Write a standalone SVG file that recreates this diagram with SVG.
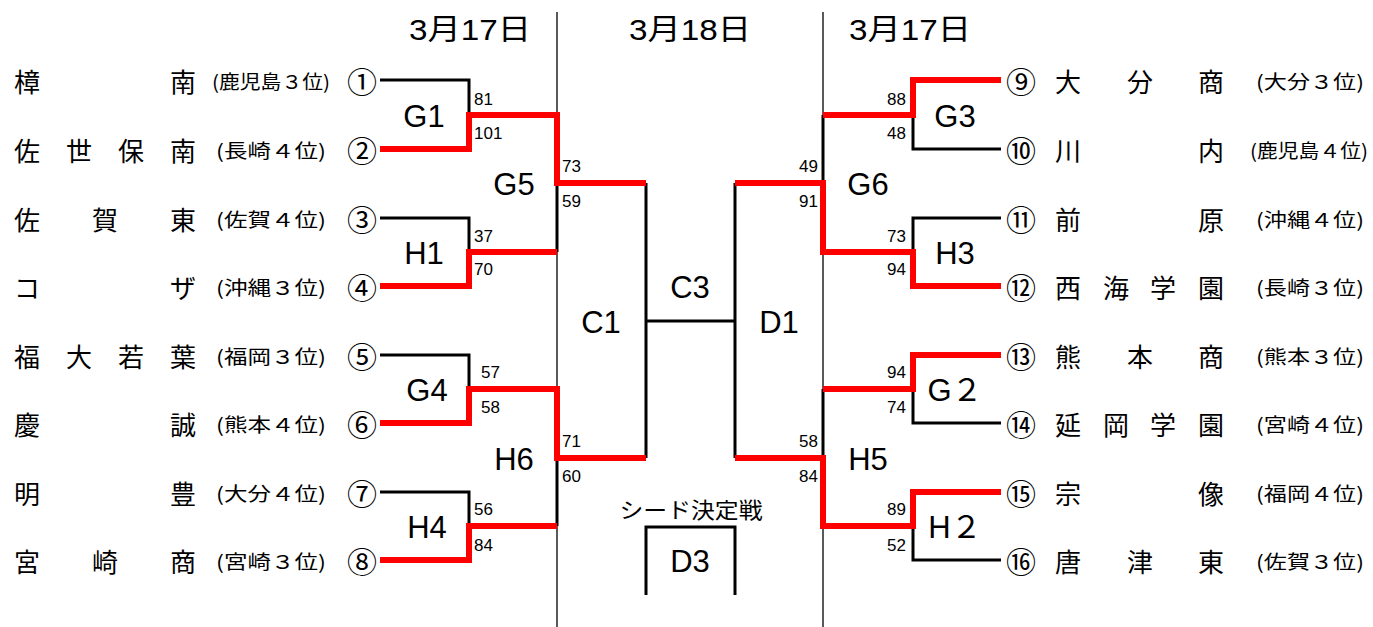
<svg xmlns="http://www.w3.org/2000/svg" width="1373" height="627" viewBox="0 0 1373 627">
<style>
text{font-family:"Noto Sans CJK JP","Liberation Sans",sans-serif;fill:#000;dominant-baseline:central}
.nm{font-size:26px;text-anchor:middle}
.pf{font-size:19px}
.cn{font-size:30px;text-anchor:middle}
.lb{font-family:"Liberation Sans","Noto Sans CJK JP",sans-serif;font-size:31px;text-anchor:middle}
.dt{font-family:"Liberation Sans","Noto Sans CJK JP",sans-serif;font-size:29px;text-anchor:middle}
.sc{font-family:"Liberation Sans",sans-serif;font-size:17px}
.scr{font-family:"Liberation Sans",sans-serif;font-size:17px;text-anchor:end}
.bk{fill:none;stroke:#000;stroke-width:3}
.rd{fill:none;stroke:#f00;stroke-width:6;stroke-linejoin:miter}
.dv{fill:none;stroke:#000;stroke-width:1.3}
</style>
<rect width="1373" height="627" fill="#fff"/>
<g id="headers">
<text class="dt" x="470" y="30" textLength="122" lengthAdjust="spacingAndGlyphs">3月17日</text>
<text class="dt" x="690" y="30" textLength="122" lengthAdjust="spacingAndGlyphs">3月18日</text>
<text class="dt" x="910" y="30" textLength="122" lengthAdjust="spacingAndGlyphs">3月17日</text>
</g>
<g id="connectors">
<line class="dv" x1="557" y1="12" x2="557" y2="627"/>
<line class="dv" x1="823" y1="12" x2="823" y2="627"/>
<polyline class="bk" points="380,80 469,80 469,115"/>
<polyline class="bk" points="380,218 469,218 469,252"/>
<polyline class="bk" points="557,183 557,252"/>
<polyline class="bk" points="380,355 469,355 469,389"/>
<polyline class="bk" points="380,492 469,492 469,526"/>
<polyline class="bk" points="557,458 557,526"/>
<polyline class="bk" points="646,183 646,458"/>
<polyline class="bk" points="646,321 735,321"/>
<polyline class="bk" points="735,183 735,458"/>
<polyline class="bk" points="646,595 646,527 735,527 735,595"/>
<polyline class="bk" points="1001,149 913,149 913,115"/>
<polyline class="bk" points="823,115 823,183"/>
<polyline class="bk" points="1001,218 913,218 913,252"/>
<polyline class="bk" points="1001,423 913,423 913,389"/>
<polyline class="bk" points="823,389 823,458"/>
<polyline class="bk" points="1001,560 913,560 913,526"/>
<polyline class="rd" points="380,149 469,149 469,115 557,115 557,183 646,183"/>
<polyline class="rd" points="380,286 469,286 469,252 557,252"/>
<polyline class="rd" points="380,423 469,423 469,389 557,389 557,458 646,458"/>
<polyline class="rd" points="380,560 469,560 469,526 557,526"/>
<polyline class="rd" points="1001,80 913,80 913,115 823,115"/>
<polyline class="rd" points="735,183 823,183 823,252 913,252 913,286 1001,286"/>
<polyline class="rd" points="1001,355 913,355 913,389 823,389"/>
<polyline class="rd" points="735,458 823,458 823,526 913,526 913,492 1001,492"/>
</g>
<g id="scores">
<text class="sc" x="474" y="99">81</text>
<text class="sc" x="474" y="133">101</text>
<text class="sc" x="474" y="236">37</text>
<text class="sc" x="474" y="269">70</text>
<text class="sc" x="481" y="372">57</text>
<text class="sc" x="481" y="407">58</text>
<text class="sc" x="474" y="509">56</text>
<text class="sc" x="474" y="545">84</text>
<text class="sc" x="562" y="166">73</text>
<text class="sc" x="562" y="201">59</text>
<text class="sc" x="562" y="441">71</text>
<text class="sc" x="562" y="476">60</text>
<text class="scr" x="906" y="99">88</text>
<text class="scr" x="906" y="133">48</text>
<text class="scr" x="906" y="236">73</text>
<text class="scr" x="906" y="269">94</text>
<text class="scr" x="906" y="372">94</text>
<text class="scr" x="906" y="407">74</text>
<text class="scr" x="906" y="509">89</text>
<text class="scr" x="906" y="545">52</text>
<text class="scr" x="818" y="166">49</text>
<text class="scr" x="818" y="201">91</text>
<text class="scr" x="818" y="441">58</text>
<text class="scr" x="818" y="476">84</text>
</g>
<g id="match-G1"><text class="lb" x="424" y="116">G1</text></g>
<g id="match-H1"><text class="lb" x="424" y="253">H1</text></g>
<g id="match-G4"><text class="lb" x="427" y="390">G4</text></g>
<g id="match-H4"><text class="lb" x="427" y="527">H4</text></g>
<g id="match-G5"><text class="lb" x="514" y="184">G5</text></g>
<g id="match-H6"><text class="lb" x="514" y="459">H6</text></g>
<g id="match-C1"><text class="lb" x="601" y="322">C1</text></g>
<g id="match-C3"><text class="lb" x="690" y="287">C3</text></g>
<g id="match-D1"><text class="lb" x="779" y="322">D1</text></g>
<g id="match-G6"><text class="lb" x="868" y="184">G6</text></g>
<g id="match-H5"><text class="lb" x="868" y="459">H5</text></g>
<g id="match-G3"><text class="lb" x="955" y="116">G3</text></g>
<g id="match-H3"><text class="lb" x="955" y="253">H3</text></g>
<g id="match-G2"><text class="lb" x="955" y="390">G２</text></g>
<g id="match-H2"><text class="lb" x="955" y="527">H２</text></g>
<g id="match-D3">
<text x="691" y="508" style="font-size:22px;text-anchor:middle" textLength="143" lengthAdjust="spacingAndGlyphs">シード決定戦</text>
<text class="lb" x="690" y="561">D3</text>
</g>
<g id="team-1"><text class="nm" x="27" y="80">樟</text><text class="nm" x="183" y="80">南</text><text class="pf" x="212" y="80" textLength="118" lengthAdjust="spacingAndGlyphs">(鹿児島３位)</text><text class="cn" x="362" y="80">①</text></g>
<g id="team-2"><text class="nm" x="27" y="149">佐</text><text class="nm" x="79" y="149">世</text><text class="nm" x="131" y="149">保</text><text class="nm" x="183" y="149">南</text><text class="pf" x="216" y="149" textLength="110" lengthAdjust="spacingAndGlyphs">(長崎４位)</text><text class="cn" x="362" y="149">②</text></g>
<g id="team-3"><text class="nm" x="27" y="218">佐</text><text class="nm" x="105" y="218">賀</text><text class="nm" x="183" y="218">東</text><text class="pf" x="216" y="218" textLength="110" lengthAdjust="spacingAndGlyphs">(佐賀４位)</text><text class="cn" x="362" y="218">③</text></g>
<g id="team-4"><text class="nm" x="27" y="286">コ</text><text class="nm" x="183" y="286">ザ</text><text class="pf" x="216" y="286" textLength="110" lengthAdjust="spacingAndGlyphs">(沖縄３位)</text><text class="cn" x="362" y="286">④</text></g>
<g id="team-5"><text class="nm" x="27" y="355">福</text><text class="nm" x="79" y="355">大</text><text class="nm" x="131" y="355">若</text><text class="nm" x="183" y="355">葉</text><text class="pf" x="216" y="355" textLength="110" lengthAdjust="spacingAndGlyphs">(福岡３位)</text><text class="cn" x="362" y="355">⑤</text></g>
<g id="team-6"><text class="nm" x="27" y="423">慶</text><text class="nm" x="183" y="423">誠</text><text class="pf" x="216" y="423" textLength="110" lengthAdjust="spacingAndGlyphs">(熊本４位)</text><text class="cn" x="362" y="423">⑥</text></g>
<g id="team-7"><text class="nm" x="27" y="492">明</text><text class="nm" x="183" y="492">豊</text><text class="pf" x="216" y="492" textLength="110" lengthAdjust="spacingAndGlyphs">(大分４位)</text><text class="cn" x="362" y="492">⑦</text></g>
<g id="team-8"><text class="nm" x="27" y="560">宮</text><text class="nm" x="105" y="560">崎</text><text class="nm" x="183" y="560">商</text><text class="pf" x="216" y="560" textLength="110" lengthAdjust="spacingAndGlyphs">(宮崎３位)</text><text class="cn" x="362" y="560">⑧</text></g>
<g id="team-9"><text class="cn" x="1021" y="80">⑨</text><text class="nm" x="1068" y="80">大</text><text class="nm" x="1140" y="80">分</text><text class="nm" x="1211" y="80">商</text><text class="pf" x="1256" y="80" textLength="108" lengthAdjust="spacingAndGlyphs">(大分３位)</text></g>
<g id="team-10"><text class="cn" x="1021" y="149">⑩</text><text class="nm" x="1068" y="149">川</text><text class="nm" x="1211" y="149">内</text><text class="pf" x="1250" y="149" textLength="118" lengthAdjust="spacingAndGlyphs">(鹿児島４位)</text></g>
<g id="team-11"><text class="cn" x="1021" y="218">⑪</text><text class="nm" x="1068" y="218">前</text><text class="nm" x="1211" y="218">原</text><text class="pf" x="1256" y="218" textLength="108" lengthAdjust="spacingAndGlyphs">(沖縄４位)</text></g>
<g id="team-12"><text class="cn" x="1021" y="286">⑫</text><text class="nm" x="1068" y="286">西</text><text class="nm" x="1116" y="286">海</text><text class="nm" x="1163" y="286">学</text><text class="nm" x="1211" y="286">園</text><text class="pf" x="1256" y="286" textLength="108" lengthAdjust="spacingAndGlyphs">(長崎３位)</text></g>
<g id="team-13"><text class="cn" x="1021" y="355">⑬</text><text class="nm" x="1068" y="355">熊</text><text class="nm" x="1140" y="355">本</text><text class="nm" x="1211" y="355">商</text><text class="pf" x="1256" y="355" textLength="108" lengthAdjust="spacingAndGlyphs">(熊本３位)</text></g>
<g id="team-14"><text class="cn" x="1021" y="423">⑭</text><text class="nm" x="1068" y="423">延</text><text class="nm" x="1116" y="423">岡</text><text class="nm" x="1163" y="423">学</text><text class="nm" x="1211" y="423">園</text><text class="pf" x="1256" y="423" textLength="108" lengthAdjust="spacingAndGlyphs">(宮崎４位)</text></g>
<g id="team-15"><text class="cn" x="1021" y="492">⑮</text><text class="nm" x="1068" y="492">宗</text><text class="nm" x="1211" y="492">像</text><text class="pf" x="1256" y="492" textLength="108" lengthAdjust="spacingAndGlyphs">(福岡４位)</text></g>
<g id="team-16"><text class="cn" x="1021" y="560">⑯</text><text class="nm" x="1068" y="560">唐</text><text class="nm" x="1140" y="560">津</text><text class="nm" x="1211" y="560">東</text><text class="pf" x="1256" y="560" textLength="108" lengthAdjust="spacingAndGlyphs">(佐賀３位)</text></g>
</svg>
